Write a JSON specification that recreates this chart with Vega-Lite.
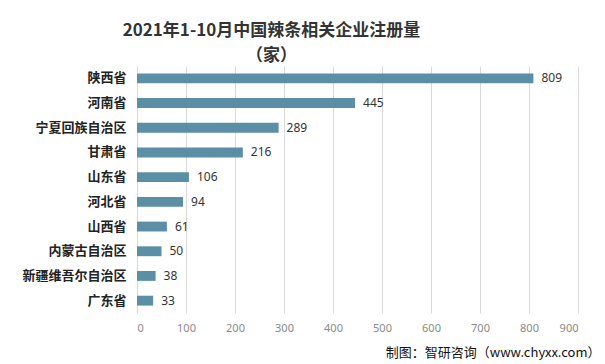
{
  "$schema": "https://vega.github.io/schema/vega-lite/v6.json",
  "autosize": {"type": "none"},
  "width": 441,
  "height": 247,
  "padding": {"left": 137, "top": 66, "right": 27, "bottom": 51},
  "background": "white",
  "config": {"view": {"stroke": null}, "font": "Noto Sans CJK SC"},
  "title": {
    "text": ["2021年1-10月中国辣条相关企业注册量", "（家）"],
    "fontSize": 17,
    "fontWeight": "bold",
    "color": "#333333",
    "anchor": "middle",
    "dx": -86,
    "offset": 1,
    "lineHeight": 25,
    "font": "Noto Sans CJK SC"
  },
  "data": {
    "values": [
      {"region": "陕西省", "count": 809},
      {"region": "河南省", "count": 445},
      {"region": "宁夏回族自治区", "count": 289},
      {"region": "甘肃省", "count": 216},
      {"region": "山东省", "count": 106},
      {"region": "河北省", "count": 94},
      {"region": "山西省", "count": 61},
      {"region": "内蒙古自治区", "count": 50},
      {"region": "新疆维吾尔自治区", "count": 38},
      {"region": "广东省", "count": 33}
    ]
  },
  "encoding": {
    "y": {
      "field": "region",
      "type": "nominal",
      "sort": null,
      "scale": {"paddingInner": 0.6, "paddingOuter": 0.3},
      "axis": {
        "title": null,
        "domain": false,
        "ticks": false,
        "labelPadding": 11,
        "labelFontSize": 13,
        "labelFontWeight": "bold",
        "labelColor": "#222222",
        "labelFont": "Noto Sans CJK SC"
      }
    },
    "x": {
      "field": "count",
      "type": "quantitative",
      "scale": {"domain": [0, 900], "nice": false},
      "axis": {
        "values": [0, 100, 200, 300, 400, 500, 600, 700, 800, 900],
        "domain": false,
        "ticks": false,
        "grid": true,
        "gridColor": "#d9d9d9",
        "labelPadding": 9,
        "labelFontSize": 11,
        "labelColor": "#8a8a8a",
        "labelFont": "Noto Sans",
        "title": "制图：智研咨询（www.chyxx.com）",
        "titleFontSize": 13,
        "titleFontWeight": "normal",
        "titleColor": "#111111",
        "titleFont": "Noto Sans CJK SC",
        "titleAnchor": "end",
        "titleAlign": "right",
        "titleBaseline": "middle",
        "titleX": 463,
        "titleY": 39
      }
    }
  },
  "layer": [
    {"mark": {"type": "bar", "color": "#5b8fa6"}},
    {
      "mark": {"type": "text", "align": "left", "baseline": "middle", "dx": 8, "fontSize": 12, "color": "#333333", "font": "Noto Sans"},
      "encoding": {"text": {"field": "count", "type": "quantitative"}}
    }
  ]
}
